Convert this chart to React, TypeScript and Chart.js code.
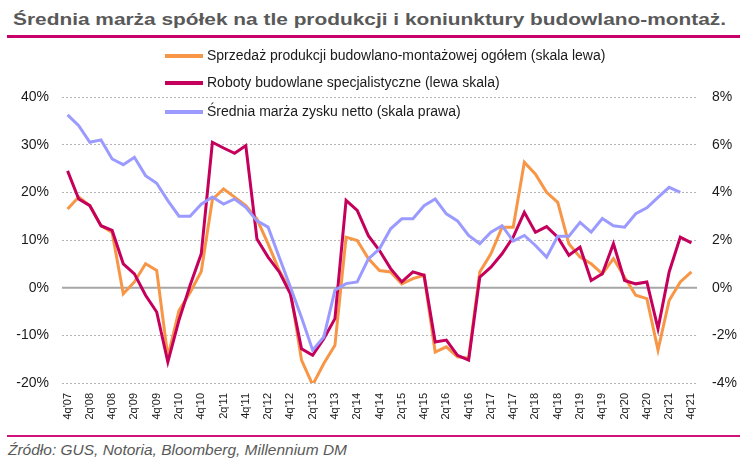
import React, { useEffect, useLayoutEffect, useRef } from "react";
import { Chart, registerables } from "chart.js";

Chart.register(...registerables);

const CATEGORIES = [
  "4q'07",
  "1q'08", "2q'08", "3q'08", "4q'08",
  "1q'09", "2q'09", "3q'09", "4q'09",
  "1q'10", "2q'10", "3q'10", "4q'10",
  "1q'11", "2q'11", "3q'11", "4q'11",
  "1q'12", "2q'12", "3q'12", "4q'12",
  "1q'13", "2q'13", "3q'13", "4q'13",
  "1q'14", "2q'14", "3q'14", "4q'14",
  "1q'15", "2q'15", "3q'15", "4q'15",
  "1q'16", "2q'16", "3q'16", "4q'16",
  "1q'17", "2q'17", "3q'17", "4q'17",
  "1q'18", "2q'18", "3q'18", "4q'18",
  "1q'19", "2q'19", "3q'19", "4q'19",
  "1q'20", "2q'20", "3q'20", "4q'20",
  "1q'21", "2q'21", "3q'21", "4q'21",
];

const TICK_LABELS = [
  "4q'07", "2q'08", "4q'08", "2q'09", "4q'09", "2q'10", "4q'10", "2q'11", "4q'11",
  "2q'12", "4q'12", "2q'13", "4q'13", "2q'14", "4q'14", "2q'15", "4q'15", "2q'16",
  "4q'16", "2q'17", "4q'17", "2q'18", "4q'18", "2q'19", "4q'19", "2q'20", "4q'20",
  "2q'21", "4q'21",
];

// Sprzedaż produkcji budowlano-montażowej ogółem (%, left scale)
const SALES = [
  16.5, 19.0, 17.2, 13.0, 11.6, -1.3, 1.2, 5.0, 3.6, -14.5, -4.8, -1.0, 3.4,
  18.5, 20.7, 19.0, 17.2, 14.4, 9.2, 3.6, -0.6, -15.2, -20.4, -15.9, -12.1,
  10.6, 9.9, 6.1, 3.6, 3.3, 0.8, 1.9, 2.6, -13.5, -12.4, -14.5, -14.8, 3.3,
  7.1, 12.7, 12.7, 26.3, 23.8, 20.0, 17.9, 9.2, 6.4, 5.0, 2.9, 6.1, 2.2, -1.6,
  -2.3, -13.1, -2.7, 1.2, 3.3,
];

// Roboty budowlane specjalistyczne (%, left scale)
const SPECIALIST = [
  24.5, 18.6, 17.2, 13.0, 12.0, 5.0, 2.9, -1.6, -5.1, -15.6, -6.8, 0.5, 7.1,
  30.5, 29.3, 28.2, 29.8, 10.2, 6.4, 3.3, -1.3, -12.8, -14.2, -10.7, -6.5,
  18.3, 16.2, 10.9, 7.8, 4.0, 1.2, 3.3, 2.6, -11.4, -11.0, -14.2, -15.2, 2.2,
  4.3, 7.1, 10.6, 15.8, 11.6, 12.8, 10.6, 6.8, 8.5, 1.5, 2.9, 9.2, 1.5, 0.8,
  1.2, -8.6, 3.3, 10.6, 9.4,
];

// Średnia marża zysku netto (%, right scale)
const MARGIN = [
  7.25, 6.8, 6.1, 6.2, 5.4, 5.16, 5.47, 4.7, 4.38, 3.65, 3.0, 3.0, 3.5, 3.8,
  3.51, 3.72, 3.37, 2.8, 2.54, 1.28, 0.03, -1.25, -2.62, -2.07, -0.11, 0.17,
  0.24, 1.21, 1.63, 2.47, 2.89, 2.89, 3.44, 3.72, 3.1, 2.8, 2.19, 1.84, 2.33,
  2.6, 1.95, 2.19, 1.77, 1.28, 2.16, 2.16, 2.74, 2.33, 2.9, 2.6, 2.54, 3.1,
  3.35, 3.79, 4.21, 4.0, null,
];

const SERIES_NAMES = [
  "Sprzedaż produkcji budowlano-montażowej ogółem (skala lewa)",
  "Roboty budowlane specjalistyczne (lewa skala)",
  "Średnia marża zysku netto (skala prawa)",
];
const COLORS = ["#F79646", "#C4005C", "#9B9BFF"];

const TITLE = "Średnia marża spółek na tle produkcji i koniunktury budowlano-montaż.";
const SOURCE = "Źródło: GUS, Notoria, Bloomberg, Millennium DM";

const FONT = "'Liberation Sans', Arial, sans-serif";

const zeroLine = {
  id: "zeroLine",
  beforeDatasetsDraw(chart: any) {
    const { ctx, chartArea } = chart;
    const y = chart.scales.y.getPixelForValue(0);
    ctx.save();
    ctx.strokeStyle = "#A6A6A6";
    ctx.lineWidth = 2;
    ctx.beginPath();
    ctx.moveTo(chartArea.left, y);
    ctx.lineTo(chartArea.right, y);
    ctx.stroke();
    ctx.restore();
  },
};

function FitText({ text, width, style }: { text: string; width: number; style: any }) {
  const ref = useRef<HTMLSpanElement>(null);
  useLayoutEffect(() => {
    const el = ref.current;
    if (!el) return;
    el.style.transform = "none";
    const w = el.getBoundingClientRect().width;
    if (w > 0) el.style.transform = `scaleX(${width / w})`;
  }, [text, width]);
  return (
    <span
      ref={ref}
      style={{ ...style, position: "absolute", whiteSpace: "nowrap", transformOrigin: "0 0" }}
    >
      {text}
    </span>
  );
}

export default function App() {
  const canvasRef = useRef<HTMLCanvasElement>(null);

  useEffect(() => {
    if (!canvasRef.current) return;
    const chart = new Chart(canvasRef.current, {
      type: "line",
      data: {
        labels: CATEGORIES,
        datasets: [
          {
            label: SERIES_NAMES[0],
            data: SALES,
            borderColor: COLORS[0],
            backgroundColor: COLORS[0],
            borderWidth: 3,
            pointRadius: 0,
            tension: 0,
            yAxisID: "y",
            order: 2,
          },
          {
            label: SERIES_NAMES[1],
            data: SPECIALIST,
            borderColor: COLORS[1],
            backgroundColor: COLORS[1],
            borderWidth: 3,
            pointRadius: 0,
            tension: 0,
            yAxisID: "y",
            order: 1,
          },
          {
            label: SERIES_NAMES[2],
            data: MARGIN,
            borderColor: COLORS[2],
            backgroundColor: COLORS[2],
            borderWidth: 3,
            pointRadius: 0,
            tension: 0,
            yAxisID: "y1",
            order: 0,
          },
        ],
      },
      options: {
        responsive: false,
        animation: false,
        layout: { padding: { top: 57, left: 0, right: 0, bottom: 0 } },
        plugins: {
          legend: { display: false },
          title: { display: false },
          tooltip: { enabled: false },
        },
        scales: {
          x: {
            type: "category",
            offset: true,
            grid: { display: false, drawTicks: false },
            border: { display: false },
            ticks: {
              autoSkip: false,
              minRotation: 90,
              maxRotation: 90,
              padding: 10,
              color: "#1A1A1A",
              font: { family: FONT, size: 11 },
              callback: (_v: any, i: number) =>
                TICK_LABELS.includes(CATEGORIES[i]) ? CATEGORIES[i] : "",
            },
            afterFit: (s: any) => {
              s.height = 47;
            },
          },
          y: {
            position: "left",
            min: -20,
            max: 40,
            grid: { color: "#B5B5B5", lineWidth: 1, drawTicks: false },
            border: { display: false, dash: [2, 2] },
            ticks: {
              stepSize: 10,
              padding: 13,
              color: "#1A1A1A",
              font: { family: FONT, size: 14 },
              callback: (v: any) => `${v}%`,
            },
            afterFit: (s: any) => {
              s.width = 62;
            },
          },
          y1: {
            position: "right",
            min: -4,
            max: 8,
            grid: { display: false, drawTicks: false },
            border: { display: false },
            ticks: {
              stepSize: 2,
              padding: 15,
              color: "#1A1A1A",
              font: { family: FONT, size: 14 },
              callback: (v: any) => `${v}%`,
            },
            afterFit: (s: any) => {
              s.width = 49;
            },
          },
        },
      },
      plugins: [zeroLine],
    } as any);
    return () => chart.destroy();
  }, []);

  const legendRows = [56, 83, 112];

  return (
    <div
      style={{
        position: "absolute",
        left: 0,
        top: 0,
        width: 746,
        height: 463,
        background: "#FFFFFF",
        overflow: "hidden",
        fontFamily: FONT,
      }}
    >
      <FitText
        text={TITLE}
        width={713}
        style={{
          left: 13,
          top: 11,
          fontSize: 17,
          lineHeight: "17px",
          fontWeight: "bold",
          color: "#595959",
        }}
      />
      <div
        style={{ position: "absolute", left: 7, top: 35, width: 733, height: 3, background: "#C8006A" }}
      />
      <div style={{ position: "absolute", left: 0, top: 40, width: 746, height: 390 }}>
        <canvas ref={canvasRef} width={746} height={390} style={{ display: "block" }} />
      </div>
      {SERIES_NAMES.map((name, i) => (
        <div key={name}>
          <div
            style={{
              position: "absolute",
              left: 165,
              top: legendRows[i] - 2,
              width: 38,
              height: 4,
              background: COLORS[i],
            }}
          />
          <span
            style={{
              position: "absolute",
              left: 207,
              top: legendRows[i] - 9,
              fontSize: 14,
              lineHeight: "16px",
              color: "#1A1A1A",
              whiteSpace: "nowrap",
            }}
          >
            {name}
          </span>
        </div>
      ))}
      <div
        style={{ position: "absolute", left: 7, top: 435, width: 733, height: 2, background: "#D0127A" }}
      />
      <FitText
        text={SOURCE}
        width={339}
        style={{
          left: 8,
          top: 442,
          fontSize: 14,
          lineHeight: "16px",
          fontStyle: "italic",
          color: "#595959",
        }}
      />
    </div>
  );
}
